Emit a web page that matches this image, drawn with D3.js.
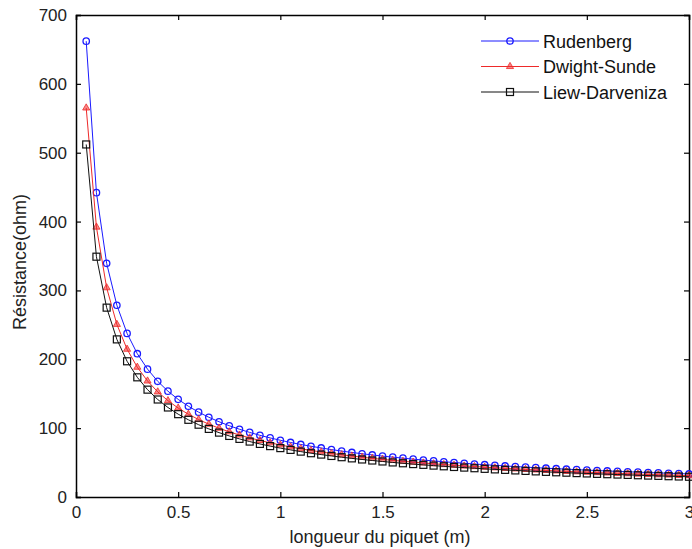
<!DOCTYPE html>
<html>
<head>
<meta charset="utf-8">
<script src="https://cdn.jsdelivr.net/npm/d3@7"></script>
<style>
  body { margin: 0; background: #fff; }
  svg { display: block; font-family: "Liberation Sans", Arial, sans-serif; }
</style>
</head>
<body>
<svg id="chart" width="692" height="549"></svg>
<script>
// rod length (m)
const lengths = d3.range(1, 61).map(i => +(i * 0.05).toFixed(2));

const rudenberg = [662, 442, 339.4, 278.5, 237.6, 208.1, 185.7, 168.0, 153.7, 141.8,
  131.8, 123.2, 115.8, 109.3, 103.5, 98.4, 93.8, 89.6, 85.8, 82.4,
  79.2, 76.3, 73.7, 71.2, 68.9, 66.7, 64.7, 62.8, 61.1, 59.4,
  57.9, 56.4, 55.0, 53.6, 52.4, 51.2, 50.1, 49.0, 47.9, 46.9,
  46.0, 45.1, 44.2, 43.4, 42.6, 41.8, 41.1, 40.4, 39.7, 39.0,
  38.4, 37.8, 37.2, 36.6, 36.1, 35.5, 35.0, 34.5, 34.0, 33.5];

const dwightSunde = [565, 392, 303.9, 250.7, 214.6, 188.5, 168.5, 152.7, 139.9, 129.2,
  120.2, 112.5, 105.8, 99.9, 94.7, 90.0, 85.9, 82.1, 78.7, 75.6,
  72.7, 70.1, 67.6, 65.4, 63.3, 61.3, 59.5, 57.8, 56.2, 54.6,
  53.2, 51.9, 50.6, 49.4, 48.2, 47.1, 46.1, 45.1, 44.2, 43.3,
  42.4, 41.6, 40.8, 40.0, 39.3, 38.6, 37.9, 37.2, 36.6, 36.0,
  35.4, 34.9, 34.3, 33.8, 33.3, 32.8, 32.3, 31.9, 31.4, 31.0];

const liewDarveniza = [512, 349, 275.0, 228.9, 197.1, 173.8, 155.9, 141.6, 130.0, 120.3,
  112.1, 105.0, 98.9, 93.5, 88.7, 84.4, 80.5, 77.1, 73.9, 71.0,
  68.4, 65.9, 63.6, 61.6, 59.6, 57.8, 56.1, 54.5, 53.0, 51.6,
  50.2, 49.0, 47.8, 46.7, 45.6, 44.6, 43.6, 42.7, 41.8, 40.9,
  40.1, 39.4, 38.6, 37.9, 37.2, 36.5, 35.9, 35.3, 34.7, 34.2,
  33.6, 33.1, 32.6, 32.1, 31.6, 31.1, 30.7, 30.2, 29.8, 29.4];

const seriesNames = ["Rudenberg", "Dwight-Sunde", "Liew-Darveniza"];
const seriesColors = ["#1a1aff", "#ee2a2a", "#111111"];
const seriesMarkers = ["circle", "triangle", "square"];
const xTicks = [0, 0.5, 1, 1.5, 2, 2.5, 3];
const yTicks = [0, 100, 200, 300, 400, 500, 600, 700];

const allSeries = [rudenberg, dwightSunde, liewDarveniza];

const svg = d3.select("#chart");
const margin = {top: 15, right: 3, bottom: 52, left: 76};
const W = 692, H = 549;
const iw = W - margin.left - margin.right;
const ih = H - margin.top - margin.bottom;

const x = d3.scaleLinear().domain([0, 3]).range([0, iw]);
const y = d3.scaleLinear().domain([0, 700]).range([ih, 0]);

const g = svg.append("g").attr("transform", `translate(${margin.left},${margin.top})`);

// axes, ticks pointing inward
const fmtX = d => d3.format("~g")(d);
const axBottom = g.append("g").attr("transform", `translate(0,${ih})`)
  .call(d3.axisBottom(x).tickValues(xTicks).tickSize(-5).tickPadding(9).tickFormat(fmtX));
const axLeft = g.append("g")
  .call(d3.axisLeft(y).tickValues(yTicks).tickSize(-5).tickPadding(9));
const axTop = g.append("g")
  .call(d3.axisTop(x).tickValues(xTicks).tickSize(-5).tickFormat(""));
const axRight = g.append("g").attr("transform", `translate(${iw},0)`)
  .call(d3.axisRight(y).tickValues(yTicks).tickSize(-5).tickFormat(""));

[axBottom, axLeft, axTop, axRight].forEach(a => {
  a.select(".domain").attr("stroke", "#000").attr("stroke-width", 1.5);
  a.selectAll(".tick line").attr("stroke", "#000").attr("stroke-width", 1.2);
  a.selectAll(".tick text").attr("fill", "#222").style("font-size", "17px");
});

// markers
const tri = d3.symbol().type(d3.symbolTriangle).size(22);
function drawMarker(sel, type, color) {
  if (type === "circle") {
    sel.append("circle").attr("r", 3.2).attr("fill", "none")
      .attr("stroke", color).attr("stroke-width", 1.3);
  } else if (type === "triangle") {
    sel.append("path").attr("d", tri()).attr("fill", color).attr("fill-opacity", 0.55)
      .attr("stroke", color).attr("stroke-width", 0.8);
  } else {
    sel.append("rect").attr("x", -3.5).attr("y", -3.5).attr("width", 7).attr("height", 7)
      .attr("fill", "none").attr("stroke", color).attr("stroke-width", 1.2);
  }
}

const line = d3.line().x(d => x(d[0])).y(d => y(d[1]));

allSeries.forEach((vals, si) => {
  const pts = lengths.map((l, i) => [l, vals[i]]);
  g.append("path").datum(pts)
    .attr("fill", "none")
    .attr("stroke", seriesColors[si])
    .attr("stroke-width", 1)
    .attr("d", line);
  g.append("g").selectAll("g")
    .data(pts)
    .enter()
    .append("g")
    .attr("transform", d => `translate(${x(d[0])},${y(d[1])})`)
    .each(function() { drawMarker(d3.select(this), seriesMarkers[si], seriesColors[si]); });
});

// legend
const legend = svg.append("g").attr("transform", "translate(481,41)");
seriesNames.forEach((name, i) => {
  const row = legend.append("g").attr("transform", `translate(0,${i * 25.5})`);
  row.append("line").attr("x1", 0).attr("x2", 58).attr("y1", 0).attr("y2", 0)
    .attr("stroke", seriesColors[i]).attr("stroke-width", 1);
  const m = row.append("g").attr("transform", "translate(29,0)");
  drawMarker(m, seriesMarkers[i], seriesColors[i]);
  row.append("text").attr("x", 62).attr("y", 6.5)
    .style("font-size", "18px").attr("fill", "#111").text(name);
});

// axis titles
svg.append("text")
  .attr("x", 380)
  .attr("y", 543)
  .attr("text-anchor", "middle")
  .style("font-size", "18px").attr("fill", "#222")
  .text("longueur du piquet (m)");

svg.append("text")
  .attr("transform", "translate(26,262) rotate(-90)")
  .attr("text-anchor", "middle")
  .style("font-size", "18px").attr("fill", "#222")
  .text("Résistance(ohm)");
</script>
</body>
</html>
